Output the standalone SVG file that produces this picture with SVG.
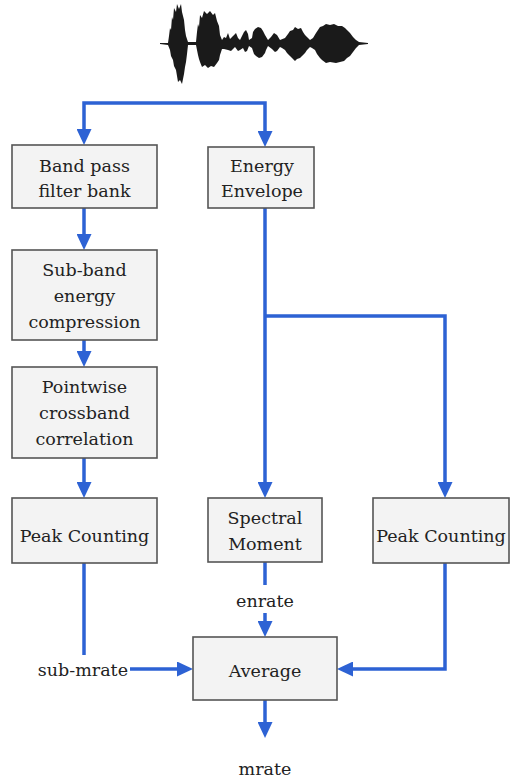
<svg xmlns="http://www.w3.org/2000/svg" width="511" height="783" viewBox="0 0 511 783">
<style>
.box{fill:#f3f3f3;stroke:#555;stroke-width:1.6}
.t{font-family:"DejaVu Serif","Liberation Serif",serif;font-size:17.5px;fill:#222;text-anchor:middle}
.c{fill:none;stroke:#2d62d4;stroke-width:3.5}
.a{marker-end:url(#ah)}
</style>
<defs>
<marker id="ah" markerUnits="userSpaceOnUse" markerWidth="16" markerHeight="15" refX="8" refY="7.5" orient="auto-start-reverse" viewBox="0 0 16 15">
<path d="M0,0 L16,7.5 L0,15 z" fill="#2d62d4"/>
</marker>
</defs>
<rect width="511" height="783" fill="#fff"/>
<g id="waveform">
<path fill="#1a1a1a" d="M160,43 L168,43 L169,36 L170,28 L171,30 L172,17 L173,20 L174,8 L176,12 L177,4 L179,9 L181,4 L182,12 L184,20 L185,30 L186,36 L188,42 L196,42 L197,32 L198,24 L199,27 L200,15 L202,18 L204,11 L207,14 L210,11 L213,15 L215,13 L217,21 L219,26 L220,35 L222,40 L224,37 L226,38 L228,33 L230,39 L233,36 L236,33 L238,38 L240,40 L242,36 L244,32 L246,30 L248,34 L249,40 L252,38 L253,32 L255,29 L258,27 L261,28 L263,31 L265,35 L268,40 L271,37 L274,33 L277,35 L280,40 L285,38 L288,34 L290,31 L293,30 L295,27 L298,29 L301,28 L303,32 L305,35 L308,38 L310,40 L313,38 L316,33 L318,30 L320,27 L323,26 L326,24 L330,25 L334,24 L338,26 L342,26 L345,28 L348,31 L350,33 L353,37 L356,40 L359,42 L368,43 L368,44 L359,45 L356,48 L353,52 L350,56 L347,58 L344,61 L340,62 L336,63 L330,62 L326,63 L322,60 L320,58 L317,54 L315,50 L312,48 L310,47 L307,50 L305,53 L302,56 L300,58 L297,59 L295,61 L292,58 L290,56 L287,53 L285,50 L282,48 L280,47 L277,51 L275,52 L272,49 L268,46 L266,50 L265,53 L262,57 L259,58 L256,56 L254,54 L252,48 L249,46 L247,51 L245,52 L243,48 L240,50 L238,51 L235,47 L231,51 L228,50 L224,49 L222,49 L220,55 L219,60 L217,63 L214,67 L211,66 L208,68 L205,65 L202,67 L200,62 L199,59 L198,55 L196,45 L188,45 L187,54 L186,62 L185,67 L184,74 L183,79 L182,84 L180,80 L178,82 L177,76 L176,70 L174,66 L173,60 L171,56 L170,50 L168,45 L160,44 Z"/>
</g>
<g id="connectors">
<path class="c" d="M84,137 V103 H265 V139" marker-start="url(#ah)" marker-end="url(#ah)"/>
<path class="c a" d="M84,208 V242"/>
<path class="c a" d="M84,340 V359"/>
<path class="c a" d="M84,458 V490"/>
<path class="c a" d="M265,208 V490"/>
<path class="c a" d="M265,316 H445 V490"/>
<path class="c" d="M265,562 V585"/>
<path class="c a" d="M265,613 V629"/>
<path class="c" d="M84,563 V655"/>
<path class="c a" d="M130,669 H185"/>
<path class="c a" d="M445,563 V669 H345"/>
<path class="c a" d="M265,700 V730"/>
</g>
<g id="bandpass">
<rect class="box" x="12" y="145" width="145" height="63"/>
<text class="t" x="84.5" y="172">Band pass</text>
<text class="t" x="84.5" y="197">filter bank</text>
</g>
<g id="energy">
<rect class="box" x="208" y="147" width="106" height="61"/>
<text class="t" x="262" y="172">Energy</text>
<text class="t" x="262" y="197">Envelope</text>
</g>
<g id="subband">
<rect class="box" x="12" y="250" width="145" height="90"/>
<text class="t" x="84.5" y="276">Sub-band</text>
<text class="t" x="84.5" y="302">energy</text>
<text class="t" x="84.5" y="328">compression</text>
</g>
<g id="pointwise">
<rect class="box" x="12" y="367" width="145" height="91"/>
<text class="t" x="84.5" y="393">Pointwise</text>
<text class="t" x="84.5" y="419">crossband</text>
<text class="t" x="84.5" y="445">correlation</text>
</g>
<g id="peak1">
<rect class="box" x="12" y="498" width="145" height="65"/>
<text class="t" x="84.5" y="542">Peak Counting</text>
</g>
<g id="spectral">
<rect class="box" x="208" y="498" width="114" height="64"/>
<text class="t" x="265" y="524">Spectral</text>
<text class="t" x="265" y="550">Moment</text>
</g>
<g id="peak2">
<rect class="box" x="373" y="498" width="136" height="65"/>
<text class="t" x="441" y="542">Peak Counting</text>
</g>
<g id="average">
<rect class="box" x="193" y="637" width="144" height="63"/>
<text class="t" x="265" y="677">Average</text>
</g>
<g id="labels">
<text class="t" x="265" y="607">enrate</text>
<text class="t" x="128" y="676" style="text-anchor:end">sub-mrate</text>
<text class="t" x="265" y="775">mrate</text>
</g>
</svg>
